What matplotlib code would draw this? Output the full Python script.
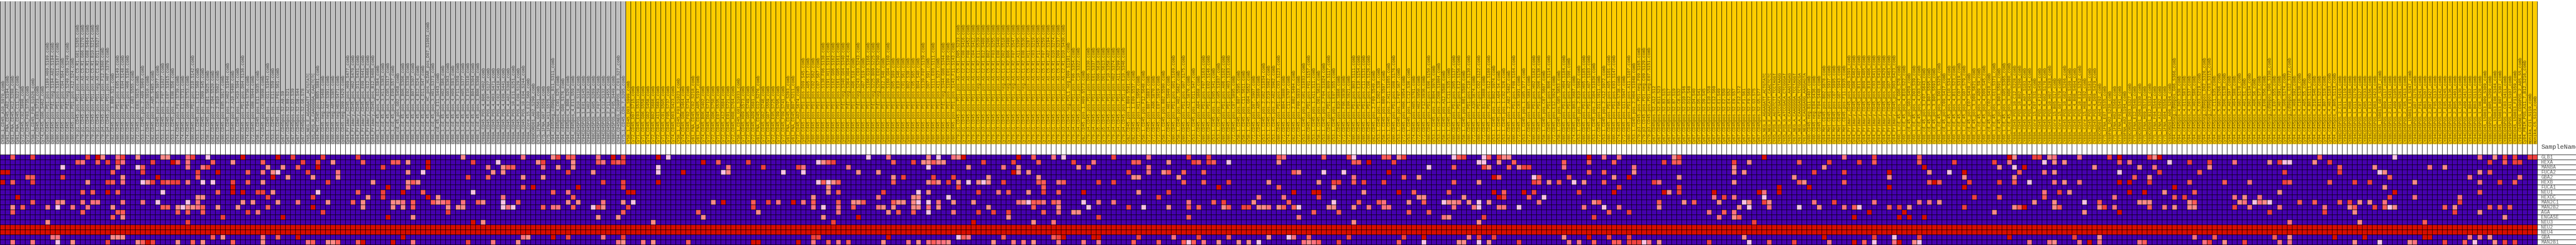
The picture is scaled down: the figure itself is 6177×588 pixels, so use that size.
#!/usr/bin/env python3
import numpy as np
import matplotlib
matplotlib.use("Agg")
import matplotlib.pyplot as plt
from matplotlib.colors import ListedColormap

W, H = 6177, 588

# sample names, left to right
samples = """
CY58_1_CD45_A10_S970_comb Cy81_FNA_CD45_A02_S194_comb Cy81_FNA_CD45_H12_S288_comb Cy81_FNA_CD45_C11_S227_comb
Cy72_CD45_C02_S698_comb Cy72_CD45_F03_S735_comb CY58_1_CD45_F06_S1026_comb Cy72_CD45_E03_S723_comb Cy74_CD45_G06_S462_comb
cy80.Cd45.pos.PD1.pos.S189.H09.S189.comb cy80.Cd45.pos.Pd1.neg.S194.A02.S194.comb cy80.Cd45.pos.PD1.pos.S167.G11.S167.comb
cy80.Cd45.pos.PD1.pos.C04.S64.comb cy80.Cd45.pos.Pd1.neg.S249.C09.S249.comb cy80.Cd45.pos.PD1.pos.A12.S24.comb
cy79.p1.CD45.pos.PD1.pos.AS.C5.R1.G01.S265.comb cy79.p1.CD45.pos.PD1.pos.AS.C5.R1.G06.S270.comb cy79.p3.CD45.pos.PD1.pos.AS.C2.R1.G08.S464.comb
cy79.p1.CD45.pos.PD1.pos.AS.C5.R1.B10.S214.comb cy79.p1.CD45.pos.PD1.neg.AS.C1.R2.D11.S527.comb cy79.p4.CD45.pos.PD1.pos.F12.S360.comb
cy79.p4.CD45.pos.PD1.pos.H07.S379.comb cy82.CD45.pos.3.B09.S21.comb cy80.CD45.pos.PD1.pos.E05.S149.comb cy80.CD45.pos.PD1.pos.E04.S148.comb
cy80.CD45.pos.PD1.pos.H06.S186.comb cy82.CD45.pos.2.G03.S555.comb cy72.CD45.pos.E03.S915.comb cy53.1.CD45.pos.2.A09.S969.comb
cy72.CD45.pos.D10.S910.comb cy82.CD45.pos.2.A05.S485.comb cy53.1.CD45.pos.2.B05.S977.comb cy53.1.CD45.pos.2.F07.S1027.comb
cy53.1.CD45.pos.2.E07.S1015.comb cy53.1.CD45.pos.1.E08.S56.comb cy74.CD45.pos.F07.S739.comb cy74.CD45.pos.E11.S731.comb
cy74.CD45.pos.G09.S753.comb cy80.CD45.pos.PD1.pos.D10.S142.comb cy53.1.CD45.pos.1.E12.S60.comb cy53.1.CD45.pos.1.D09.S45.comb
cy58.1.CD45.pos.E01.S625.comb cy82.CD45.pos.2.D04.S520.comb cy82.CD45.pos.2.B10.S502.comb cy80.CD45.pos.E05.S917.comb
cy53.1.CD45.pos.2.H02.S1046.comb cy82.CD45.pos.2.A10.S490.comb cy53.1.CD45.pos.1.H10.S94.comb cy80.CD45.pos.PD1.pos.D04.S136.comb
cy74.CD45.pos.F04.S736.comb cy72.CD45.pos.G08.S944.comb cy58.1.CD45.pos.E11.S635.comb cy74.CD45.pos.C02.S698.comb
cy53.1.CD45.pos.2.G11.S1043.comb cy53.1.CD45.pos.1.E11.S59.comb cy53.1.CD45.pos.1.F01.S61.comb
Cy67.CD45pos.S2.A9.S9 Cy67.CD45pos.S2.B9.S21 Cy67.CD45pos.S2.D3.S39 Cy67.CD45pos.S2.D8.S44 Cy67.CD45pos.S2.G6.S78
CY65_NEG_E_AGAAGATT_ACTGTATC CY65_POS_H_CAAGGGGA_CAACTCTC cy84.Met.CD45.pos.B05.S881.comb
cy80.CD45.neg.G12.S468.comb cy80.CD45.neg.A07.S391.comb cy80.CD45.neg.A05.S385.comb cy80.CD45.neg.H03.S471.comb cy80.CD45.neg.D09.S429.comb
Cy84_Primary_CD45_pos_H09_S477_comb Cy84_Primary_CD45_pos_H02_S470_comb Cy84_Primary_CD45_pos_D11_S431_comb
Cy84_Primary_CD45_pos_E09_S441_comb Cy84_Primary_CD45_pos_G12_S468_comb Cy84_Primary_CD45_pos_B12_S408_comb
cy60_1_cd_45_pos_4_G12_S84_comb cy60_1_cd_45_pos_3_H11_S383_comb cy60_1_cd_45_pos_3_C05_S317_comb cy60_1_cd_45_pos_4_E09_S57_comb
cy88_cd_45_pos_G02_S458_comb cy60_1_cd_45_pos_3_B06_S306_comb cy60_1_cd_45_pos_3_E02_S338_comb cy60_1_cd_45_pos_3_B07_S307_comb
cy60_1_cd_45_pos_4_B12_S24_comb cy60_1_cd_45_pos_4_D11_S47_comb cy60_1_cd_45_pos_HC_pos_HLDAR_pos_D07_S1003_comb
cy60_1_cd_45_pos_3_H01_S373_comb cy88_cd_45_pos_E11_S443_comb cy60_1_cd_45_pos_4_H02_S86_comb cy60_1_cd_45_pos_3_G03_S363_comb
cy60_1_cd_45_pos_4_H09_S93_comb cy60_1_cd_45_pos_3_F11_S359_comb cy60_1_cd_45_pos_3_H05_S377_comb cy60_1_cd_45_pos_3_E10_S310_comb
cy60_1_cd_45_pos_3_B04_S304_comb cy60_1_cd_45_pos_3_B08_S308_comb CY89A_CD45_POS_4_B06_S402_comb CY89A_CD45_POS_6_C07_S127_comb
CY89A_CD45_POS_4_H03_S471_comb CY89A_CD45_POS_4_C02_S410_comb CY89A_CD45_POS_4_E09_S441_comb CY89A_CD45_POS_4_A02_S386_comb
CY89A_CD45_POS_10_E11_S251_comb CY89A_CD45_POS_6_C09_S129_comb CY89A_CD45_POS_10_E04_S244_comb CY89A_Core_15_E12_S60_comb
CY89CORD01_A02_S290_comb CY75_1FNA_G09_S561_comb CY75_1FNA_G07_S559_comb CY75_1FNA_H11_S575_comb
cy94_cd45neg_cd90pos_B11_S311_comb cy94_cd45pos_4_C01_S25_comb cy94_cd45pos_G08_S176_comb cy94_cd45pos_4_B08_S20_comb cy94_cd45pos_4_E11_S59_comb
CY94CD45POS_1_B10_S118_comb CY94CD45POS_1_E01_S145_comb CY94CD45POS_1_H02_S182_comb CY88CD45POS_7_G05_S269_comb CY88CD45POS_7_F07_S259_comb
CY94CD45POS_1_C12_S132_comb CY88CD45POS_2_F11_S455_comb CY88CD45POS_2_F05_S449_comb CY94_CD45NEG_CD90POS_2_C03_S27_comb CY75_1_CD45_CD8_7_S205_comb
CY58_1_CD45_D03_S999_comb Cy72_CD45_D07_S715_comb Cy71_CD45_E03_S531_comb Cy71_CD45_G06_S558_comb Cy74_CD45_G02_S458_comb
Cy72_CD45_B02_S686_comb Cy72_CD45_A11_S683_comb Cy71_CD45_C01_S505_comb Cy72_CD45_F05_S737_comb Cy74_CD45_D03_S423_comb
CY58_1_CD45_F03_S1023_comb Cy74_CD45_G08_S464_comb Cy72_CD45_F02_S734_comb Cy81_FNA_CD45_C02_S218_comb Cy81_FNA_CD45_A05_S197_comb
Cy74_CD45_B06_S402_comb Cy72_CD45_D04_S712_comb Cy72_CD45_G06_S750_comb Cy71_CD45_E07_S535_comb Cy72_CD45_A12_S684_comb
Cy72_CD45_E01_S721_comb Cy72_CD45_H08_S764_comb CY58_1_CD45_G01_S1033_comb Cy71_CD45_H09_S573_comb Cy72_CD45_G05_S749_comb
Cy72_CD45_A09_S681_comb Cy81_FNA_CD45_G12_S276_comb Cy72_CD45_G02_S746_comb Cy71_CD45_G07_S559_comb Cy72_CD45_E05_S725_comb
Cy72_CD45_C09_S705_comb Cy72_CD45_F09_S741_comb Cy81_FNA_CD45_H07_S283_comb Cy81_FNA_CD45_B07_S211_comb Cy72_CD45_A02_S674_comb
cy80.Cd45.pos.PD1.pos.D09.S45.comb cy80.Cd45.pos.PD1.pos.A05.S17.comb cy80.Cd45.pos.PD1.pos.C02.S62.comb cy80.Cd45.pos.PD1.pos.C07.S67.comb
cy80.Cd45.pos.PD1.pos.S138.F06.S138.comb cy80.Cd45.pos.PD1.pos.S191.H11.S191.comb cy80.Cd45.pos.PD1.pos.S162.G06.S162.comb
cy80.Cd45.pos.PD1.pos.S161.G05.S161.comb cy80.Cd45.pos.Pd1.neg.S340.G04.S340.comb cy80.Cd45.pos.Pd1.neg.S364.H04.S364.comb
cy80.Cd45.pos.PD1.pos.A06.S18.comb cy80.Cd45.pos.Pd1.neg.S243.C03.S243.comb cy80.Cd45.pos.PD1.pos.A07.S19.comb
cy80.Cd45.pos.PD1.pos.S166.G10.S166.comb cy80.Cd45.pos.Pd1.neg.S225.B09.S225.comb cy80.Cd45.pos.Pd1.neg.S290.E02.S290.comb
cy80.Cd45.pos.PD1.pos.B12.S48.comb cy80.Cd45.pos.PD1.pos.S160.G04.S160.comb cy80.Cd45.pos.PD1.pos.D05.S89.comb cy80.Cd45.pos.PD1.pos.B10.S46.comb
cy80.Cd45.pos.PD1.pos.C01.S61.comb cy80.Cd45.pos.PD1.pos.B02.S38.comb cy80.Cd45.pos.PD1.pos.C05.S65.comb cy80.Cd45.pos.PD1.pos.B04.S40.comb
cy80.Cd45.pos.PD1.pos.S139.F07.S139.comb cy80.Cd45.pos.PD1.pos.D07.S91.comb cy80.Cd45.pos.PD1.pos.S111.E03.S111.comb
cy80.Cd45.pos.PD1.pos.A11.S23.comb cy80.Cd45.pos.Pd1.neg.S344.G08.S344.comb cy80.Cd45.pos.PD1.pos.S109.E01.S109.comb
cy80.Cd45.pos.PD1.pos.S143.F11.S143.comb cy79.p1.CD45.pos.PD1.pos.AS.C5.R1.D05.S233.comb cy79.p1.CD45.pos.PD1.pos.AS.C2.R1.C08.S416.comb
cy79.p3.CD45.pos.PD1.pos.AS.C2.R1.F08.S452.comb cy79.p3.CD45.pos.PD1.pos.AS.C2.R1.C04.S412.comb cy79.p1.CD45.pos.PD1.neg.AS.C1.R2.E11.S539.comb
cy79.p3.CD45.pos.PD1.pos.AS.C2.R1.B12.S408.comb cy79.p1.CD45.pos.PD1.pos.AS.C5.R1.B02.S206.comb cy79.p1.CD45.pos.PD1.pos.AS.C5.R1.F03.S255.comb
cy79.p3.CD45.pos.PD1.pos.AS.C2.R1.E08.S440.comb cy79.p1.CD45.pos.PD1.neg.AS.C1.R2.D02.S518.comb cy79.p1.CD45.pos.PD1.neg.AS.C1.R2.B06.S498.comb
cy79.p1.CD45.pos.PD1.neg.AS.C1.R2.F07.S547.comb cy79.p3.CD45.pos.PD1.pos.AS.C2.R1.A11.S395.comb cy79.p1.CD45.pos.PD1.neg.AS.C1.R2.E08.S536.comb
cy79.p1.CD45.pos.PD1.pos.AS.C5.R1.H11.S287.comb cy79.p1.CD45.pos.PD1.pos.AS.C5.R1.C03.S219.comb cy79.p3.CD45.pos.PD1.pos.AS.C2.R1.F11.S455.comb
cy79.p1.CD45.pos.PD1.pos.AS.C5.R1.F07.S259.comb cy79.p1.CD45.pos.PD1.pos.AS.C5.R1.A02.S194.comb cy79.p1.CD45.pos.PD1.pos.AS.C5.R1.G10.S274.comb
cy79.p1.CD45.pos.PD1.pos.AS.C5.R1.D09.S237.comb cy79.p3.CD45.pos.PD1.pos.AS.C2.R1.D10.S430.comb cy79.p4.CD45.neg.PDL1.neg.D09.S1101.comb
cy79.p4.CD45.pos.PD1.pos.F06.S354.comb cy79.p4.CD45.pos.PD1.pos.C10.S322.comb cy82.CD45.pos.1.H09.S573.comb cy79.p4.CD45.pos.PD1.pos.D06.S330.comb
cy79.p4.CD45.pos.PD1.pos.E01.S337.comb cy79.p5.CD45.pos.PD1.pos.D06.S618.comb cy79.p5.CD45.pos.PD1.pos.D01.S613.comb cy79.p4.CD45.pos.PD1.pos.F10.S358.comb
cy79.p4.CD45.pos.PD1.pos.H02.S374.comb cy79.p4.CD45.pos.PD1.pos.A11.S299.comb cy79.p4.CD45.pos.PD1.pos.E10.S346.comb cy82.CD45.pos.1.B09.S501.comb
cy82.CD45.pos.1.E09.S537.comb cy72.CD45.pos.H11.S959.comb cy58.1.CD45.pos.F12.S648.comb cy72.CD45.pos.B07.S883.comb cy72.CD45.pos.A06.S870.comb
cy72.CD45.pos.E07.S919.comb cy58.1.CD45.pos.B02.S590.comb cy72.CD45.pos.H01.S949.comb cy80.CD45.pos.PD1.pos.G01.S169.comb cy58.1.CD45.pos.H02.S662.comb
cy80.CD45.pos.PD1.pos.G07.S175.comb cy72.CD45.pos.A12.S876.comb cy53.1.CD45.pos.1.D11.S47.comb cy72.CD45.pos.A04.S868.comb
cy80.CD45.pos.PD1.pos.F07.S163.comb cy80.CD45.pos.PD1.pos.E02.S146.comb cy53.1.CD45.pos.1.D05.S41.comb cy53.1.CD45.pos.2.G05.S1037.comb
cy80.CD45.pos.PD1.pos.A06.S102.comb cy80.CD45.pos.PD1.pos.H03.S183.comb cy72.CD45.pos.C07.S895.comb cy58.1.CD45.pos.B07.S595.comb
cy58.1.CD45.pos.C11.S611.comb cy58.1.CD45.pos.G04.S652.comb cy72.CD45.pos.D07.S907.comb cy72.CD45.pos.A05.S869.comb cy53.1.CD45.pos.2.G02.S1034.comb
cy53.1.CD45.pos.2.D10.S982.comb cy53.1.CD45.pos.2.A02.S962.comb cy80.CD45.pos.PD1.pos.C03.S123.comb cy72.CD45.pos.B04.S880.comb
cy74.CD45.pos.C11.S707.comb cy82.CD45.pos.2.B02.S494.comb cy72.CD45.pos.F09.S933.comb cy53.1.CD45.pos.2.G01.S1033.comb
cy80.CD45.pos.PD1.pos.F01.S157.comb cy53.1.CD45.pos.1.A11.S11.comb cy58.1.CD45.pos.D01.S613.comb cy53.1.CD45.pos.2.F04.S1024.comb
cy80.CD45.pos.PD1.pos.B09.S117.comb cy53.1.CD45.pos.1.E07.S55.comb cy72.CD45.pos.B10.S886.comb cy72.CD45.pos.F06.S930.comb cy72.CD45.pos.E09.S921.comb
cy80.CD45.pos.PD1.pos.B03.S111.comb cy80.CD45.pos.PD1.pos.E10.S154.comb cy80.CD45.pos.PD1.pos.C11.S131.comb cy80.CD45.pos.PD1.pos.C06.S126.comb
cy82.CD45.pos.2.F09.S549.comb cy53.1.CD45.pos.1.D02.S38.comb cy58.1.CD45.pos.B09.S597.comb cy53.1.CD45.pos.2.H11.S1055.comb
cy80.CD45.pos.PD1.pos.G08.S176.comb cy53.1.CD45.pos.1.F07.S67.comb cy72.CD45.pos.H06.S954.comb cy53.1.CD45.pos.1.C12.S36.comb
cy74.CD45.pos.H05.S761.comb cy72.CD45.pos.H02.S950.comb cy72.CD45.pos.F12.S936.comb cy80.CD45.pos.PD1.pos.E06.S150.comb
cy53.1.CD45.pos.2.B04.S976.comb cy53.1.CD45.pos.2.D08.S1004.comb cy58.1.CD45.pos.A12.S588.comb cy53.1.CD45.pos.1.C11.S35.comb
cy80.CD45.pos.PD1.pos.D05.S137.comb cy80.CD45.pos.PD1.pos.E12.S156.comb cy58.1.CD45.pos.B01.S589.comb cy80.CD45.pos.PD1.pos.C10.S130.comb
cy72.CD45.pos.A10.S874.comb cy80.CD45.pos.PD1.pos.C02.S122.comb cy72.CD45.pos.B12.S888.comb cy80.CD45.pos.PD1.pos.G12.S180.comb
cy53.1.CD45.pos.2.B02.S974.comb cy53.1.CD45.pos.1.A04.S4.comb cy53.1.CD45.pos.1.C02.S26.comb cy82.CD45.pos.2.A02.S482.comb
cy80.CD45.pos.PD1.pos.F08.S164.comb cy72.CD45.pos.C03.S891.comb cy53.1.CD45.pos.1.G05.S77.comb cy72.CD45.pos.B05.S881.comb
cy80.CD45.pos.PD1.pos.H02.S182.comb cy80.CD45.pos.PD1.pos.D06.S138.comb cy58.1.CD45.pos.C07.S607.comb cy80.CD45.pos.PD1.pos.B06.S114.comb
cy72.CD45.pos.E12.S924.comb cy58.1.CD45.pos.G05.S653.comb cy80.CD45.pos.PD1.pos.H04.S184.comb cy80.CD45.pos.PD1.pos.A02.S98.comb
cy74.CD45.pos.B03.S687.comb cy53.1.CD45.pos.2.B10.S982.comb cy80.CD45.pos.PD1.pos.H05.S185.comb cy80.CD45.pos.PD1.pos.A07.S103.comb
cy53.1.CD45.pos.2.G04.S1036.comb cy72.CD45.pos.D11.S911.comb cy53.1.CD45.pos.2.A12.S972.comb cy80.CD45.pos.PD1.pos.A05.S101.comb
cy80.CD45.pos.PD1.pos.E03.S147.comb cy74.CD45.pos.F06.S738.comb cy72.CD45.pos.G11.S947.comb cy80.CD45.pos.PD1.pos.A11.S107.comb
cy53.1.CD45.pos.2.H04.S1048.comb cy79.p3.CD45.pos.PD1.neg.F09.S165.comb cy79.p3.CD45.pos.PD1.neg.C09.S129.comb cy79.p3.CD45.pos.PD1.neg.E07.S151.comb
Cy67.CD45pos.S2.A12.S12 Cy67.CD45pos.S2.B11.S23 Cy67.CD45pos.S2.B3.S15 Cy67.CD45pos.S2.B5.S17 Cy67.CD45pos.S2.B7.S19 Cy67.CD45pos.S2.C8.S32
Cy67.CD45pos.S2.D10.S46 Cy67.CD45pos.S2.D12.S48 Cy67.CD45pos.S2.D4.S40 Cy67.CD45pos.S2.D5.S41 Cy67.CD45pos.S2.D9.S45 Cy67.CD45pos.S2.E10.S58
Cy67.CD45pos.S2.E12.S60 Cy67.CD45pos.S2.E1.S49 Cy67.CD45pos.S2.E2.S50 Cy67.CD45pos.S2.E4.S52 Cy67.CD45pos.S2.E9.S57 Cy67.CD45pos.S2.F12.S72
Cy67.CD45pos.S2.F1.S61 Cy67.CD45pos.S2.F9.S69 Cy67.CD45pos.S2.G3.S75 Cy67.CD45pos.S2.G5.S77
CY65_NEG_E_AGAAGATT_ACTGTATC CY65_NEG_E_AGAACATT_CAACTCTC CY65_POS_E_AGTGTCTT_TCCTAGGT CY65_POS_F_ATCCGACA_AGGTAAGG
CY65_POS_G_ATCCGACA_CTCGGGAT CY65_POS_G_CAAGGGGA_AAGTAGAG CY67_NEG_A_CAAGGGGA_TCCTAGGT CY67_NEG_A_CAAGGAGA_TCTGGCGA CY67_NEG_A_CAGAGAGG_AAGGAGTA
cy80.CD45.neg.B11.S407.comb cy80.CD45.neg.E04.S436.comb cy80.CD45.neg.F04.S448.comb cy84.Met.CD45.pos.B02.S878.comb cy84.Met.CD45.pos.G01.S937.comb
cy84.Met.CD45.pos.C07.S895.comb cy84.Met.CD45.pos.G07.S943.comb cy84.Met.CD45.pos.F11.S935.comb
Cy84_Primary_CD45_pos_A09_S393_comb Cy84_Primary_CD45_pos_G06_S462_comb Cy84_Primary_CD45_pos_B11_S407_comb Cy84_Primary_CD45_pos_B09_S405_comb
Cy84_Primary_CD45_pos_B10_S406_comb Cy84_Primary_CD45_pos_C03_S411_comb Cy84_Primary_CD45_pos_C10_S418_comb Cy84_Primary_CD45_pos_D09_S429_comb
Cy84_Primary_CD45_pos_G07_S463_comb Cy84_Primary_CD45_pos_D03_S423_comb cy60_1_cd_45_pos_4_G06_S78_comb cy60_1_cd_45_pos_4_B10_S22_comb
cy88_cd_45_pos_G03_S459_comb cy60_1_cd_45_pos_4_D03_S39_comb cy60_1_cd_45_pos_4_C03_S27_comb cy88_cd_45_pos_3_F07_S643_comb
cy88_cd_45_pos_3_B07_S595_comb cy88_cd_45_pos_3_B05_S593_comb cy60_1_cd_45_pos_3_D01_S325_comb cy88_cd_45_pos_C09_S417_comb
cy60_1_cd_45_pos_4_C10_S34_comb cy60_1_cd_45_pos_4_B11_S23_comb cy60_1_cd_45_pos_3_C07_S319_comb cy60_1_cd_45_pos_4_G07_S79_comb
cy88_cd_45_pos_E07_S439_comb cy88_cd_45_pos_3_D09_S621_comb cy60_1_cd_45_pos_4_A09_S9_comb cy60_1_cd_45_pos_4_D09_S45_comb
cy88_cd_45_pos_C02_S410_comb cy60_1_cd_45_pos_3_G11_S371_comb cy88_cd_45_pos_3_B03_S591_comb cy60_1_cd_45_pos_3_G05_S365_comb
cy60_1_cd_45_pos_3_H06_S380_comb CY89A_CD45_POS_10_C12_S228_comb CY89A_CD45_POS_10_B02_S206_comb CY89A_CD45_POS_6_A07_S103_comb
CY89A_CD45_POS_4_D04_S424_comb CY89A_Core_15_C07_S31_comb CY89A_CD45_POS_4_F12_S456_comb CY89A_CD45_POS_6_G02_S170_comb
CY89A_CD45_POS_10_H07_S283_comb CY89A_Core_15_B05_S17_comb CY89A_Core_15_G07_S79_comb CY89A_CD45_POS_10_G02_S266_comb
CY89A_CD45_POS_6_B01_S109_comb CY89A_CD45_POS_4_B08_S404_comb CY89A_CD45_POS_10_E12_S252_comb CY89A_Core_15_H08_S92_comb
CY89A_CD45_POS_6_H01_S181_comb CY89A_CD45_POS_4_D09_S429_comb CY89CORD01_A04_S292_comb CY75_1FNA_E07_S535_comb CY89FNA_D02_S230_comb
CY75_1FNA_H02_S566_comb CY75_1FNA_F01_S541_comb CY89FNA_A02_S194_comb CY89CORD01_D03_S327_comb CY75_1FNA_E12_S540_comb
CY89CORD01_D06_S330_comb CY75_1FNA_H09_S573_comb CY89CORD01_B12_S312_comb CY75_1FNA_F04_S544_comb CY75_1FNA_A12_S492_comb
CY75_1FNA_G04_S556_comb CY89CORD01_A06_S294_comb cy94_cd45neg_cd90pos_G06_S366_comb cy94_cd45pos_4_D02_S38_comb cy94_cd45pos_4_G11_S83_comb
cy94_cd45pos_4_D01_S37_comb cy94_cd45pos_4_H02_S86_comb cy88_cd45pos_5_C03_S219_comb cy94_cd45neg_cd90pos_D02_S326_comb
cy94_cd45neg_cd90pos_C03_S315_comb cy94_cd45pos_4_C11_S35_comb cy88_cd45pos_5_G02_S266_comb cy94_cd45pos_4_D06_S138_comb
cy94_cd45pos_4_A01_S97_comb cy94_cd45pos_4_H04_S88_comb cy94_cd45pos_4_G02_S170_comb cy94_cd45pos_4_A01_S1_comb cy94_cd45pos_4_D02_S134_comb
cy94_cd45pos_4_A06_S6_comb cy94_cd45pos_4_G01_S73_comb cy94_cd45pos_4_E08_S56_comb cy94_cd45neg_cd90pos_D06_S330_comb cy94_cd45pos_4_E07_S55_comb
cy94_cd45pos_4_H07_S91_comb cy94_cd45pos_4_G06_S174_comb cy94_cd45neg_cd90pos_G12_S372_comb cy94_cd45pos_4_H08_S92_comb cy94_cd45pos_4_C10_S130_comb
cy94_cd45pos_4_A05_S5_comb cy94_cd45pos_4_B03_S111_comb cy94_cd45pos_4_D10_S46_comb cy94_cd45pos_4_B11_S23_comb cy94_cd45pos_4_B07_S19_comb
cy94_cd45pos_4_H03_S183_comb cy94_cd45pos_4_B05_S113_comb CY88CD45POS_2_C11_S419_comb CY94CD45POS_1_B11_S119_comb CY88CD45POS_1_H08_S188_comb
CY94CD45POS_1_G11_S179_comb CY94CD45POS_1_C07_S127_comb CY88CD45POS_7_D05_S233_comb CY94CD45POS_1_E12_S156_comb CY88CD45POS_2_D03_S423_comb
CY88CD45_150813_G07_S367_comb CY88CD45POS_1_B09_S117_comb CY88CD45POS_2_D11_S431_comb CY88CD45POS_1_A09_S105_comb CY88CD45POS_7_H05_S281_comb
CY88CD45POS_2_C05_S413_comb CY88CD45_150813_E11_S347_comb CY94CD45POS_1_G07_S175_comb CY88CD45POS_7_F01_S241_comb CY88CD45POS_7_B03_S207_comb
CY88CD45POS_2_D07_S427_comb CY94CD45POS_1_F05_S137_comb CY94CD45POS_1_D10_S142_comb CY88CD45POS_7_E05_S245_comb CY94CD45POS_1_D04_S136_comb
CY88CD45POS_2_B05_S401_comb CY94CD45POS_1_C10_S130_comb CY94CD45POS_2_A09_S417_comb CY94CD45POS_1_B04_S112_comb CY94CD45POS_1_B03_S111_comb
CY94CD45POS_1_C08_S128_comb CY88CD45_150813_B09_S309_comb CY88CD45POS_7_B05_S209_comb CY88CD45_150813_E08_S344_comb CY88CD45_150813_B07_S307_comb
CY88CD45POS_2_C03_S411_comb CY94CD45POS_1_A11_S107_comb CY88CD45_150813_F11_S359_comb CY94_CD45NEG_CD90POS_2_A05_S5_comb
Cy84_PRIM_POS_A11_7_B12_S216_comb monika_C11_S119_comb monika_C5_S123_comb
""".split()

# first 125 samples are the gray class, the rest the gold one
n_gray = 125

genes = ["GLB1", "HEXA", "MANBA", "FUCA2", "GBA2", "HEXB", "FUCA1", "NEU1", "HEXDC",
         "MAN2C1", "MAN2B2", "AGA", "ENGASE", "NEU3", "NEU2", "NEU4", "GBA", "MAN2B1"]

# non-blue cells per gene, as column + colour step (p pale .. r dark red)
GLB1 = """2c 6e 17e 19r 20s 23k 24e 27s 32s 33s 37k 38e 41p 48r 55r 58e 64e 71e 92s 104k 110s 111e 113c 114c 119k 122r 124e 131r 133p
173p 177k 185s 187p 190k 191s 192r 203r 206c 210k 212p 222e 229k 237e 241e 255c 256k 264c 269e 270p 276c 277c 279s 280e 290p 291c 292e 296p 297c 299e 300s 301s 317r 320k 323k 334s 335e
352r 368k 374e 383c 401r 402s 406e 407e 409s 410k 415k 421e 423r 429e 430s 431r 463c 478p 495k 498s 500e 502e 505e 506e"""
HEXA = """15c 16k 19c 21e 23e 24k 30e 34r 35c 37k 42c 46s 52c 60e 63e 66s 72c 78c 79c 81s 85r 94e 99p 107s 108e 114s 119c 120k 122e 123c 124e 140r 143c 149e 163p 164s 165c 166e
178c 182e 184s 185s 186c 187s 188s 196e 202e 207c 214e 218k 226c 227c 233s 238e 239c 241e 242c 245p 255s 270c 271c 273r 278e 295p 296p 299s 302c 312c 317c 322c 332e 334c 335c
346e 349s 359c 365e 371e 374c 383c 390e 398e 401k 408p 410s 412s 423c 425k 433p 437e 441e 446k 453s 455e 456p 457p 462s 465e 497e 500c 502e 503e"""
MANBA = """12p 23s 27p 28c 37k 40k 41e 53s 56s 59c 63r 76e 85r 97k 100s 101c 102c 108k 111s 114s 131p 145k 152e 159e 160k 169k 185p 193s 200k 203s 215s 217c 229k
285p 290c 296e 297s 301c 303s 304e 305e 312k 326k 346s 364s 384r 399s 402p 404r 418s 427s 430k 441s 467c 474s 485k 488s"""
FUCA2 = """0r 1r 22c 28e 39e 43r 49c 52k 54s 55p 61e 67k 81s 84p 98s 100s 113e 118s 131p 136r 144p 145s 156p 160p 171s 175s 202r 203s 205s 225e 229k 232s 233c 236c 240c
258c 259s 264p 268p 277r 317c 320c 326s 346s 348s 362e 368e 377r 385s 389p 392r 403c 408k 410s 423p 431e 439c 456e 467e 475p 476s 495s 497c"""
GBA2 = """5c 6c 12e 24s 31r 39c 54r 57s 62s 67s 93e 97c 104s 108s 178s 180e 186e 190e 197s 207s 226s 227s 235s 270k 280c 283s 298r 299c 306p 307c 313c 322s 325r 335s
358s 377s 392s 402s 426c 429s 477c 493k 503k"""
HEXB = """0r 2c 6e 17s 21e 22c 24k 28p 29s 30e 32e 33c 34e 35e 37k 40p 42p 46e 49c 52s 65e 74s 81s 82c 83s 120e 124e 131r 163p 164c 165p 166s 167c
178c 185s 186c 187s 189e 191s 193p 195s 196p 197s 200e 207c 208c 211k 212c 219e 222e 236c 240c 245e 253s 263s 266e 267e 270c 272e 276e 290c 295s 306e 307c 309s 311c 314p 316s 320c 330e 331k
346s 359c 360s 368c 385c 386r 387c 393e 399e 402c 405p 410k 412s 415k 423r 425r 429e 437c 444c 449k 456e 457c 465c 470e 473e 482s 495k 499e 502c"""
FUCA1 = """46r 77r 81k 104c 106r 115r 124e 165s 191e 208c 243r 255c 266s 323e 335e 355r 361r 377r 392r 434r 476s"""
NEU1 = """16c 18c 21r 23c 32p 43c 46r 48r 51e 52e 54s 63p 71c 76e 80r 84c 94p 110c 113k 125r 126r 165s 167c 176e 183p 185s 195e 199k 201c 205s 208e 211c 216r 227s 233e
258r 262r 263r 272s 279r 282c 289c 298r 300c 304r 306e 315e 322r 332r 333s 335e 342r 351r 352k 355r 408k 411e 413s 425r 428r 432s 438c 455s 478r 495c"""
HEXDC = """3r 39s 40s 53e 62e 73s 76e 85r 87s 100k 114c 162s 175k 182s 183s 189p 231e 251k 256k 263e 283s 284s 292s 299r 300e 305c 308p
342k 344e 346k 352p 394e 399c 408c 422k 434c 436e 446k 448s 451k 477e 482k 491k"""
MAN2C1 = """6c 11k 12s 16k 18k 19k 24k 28k 31p 37p 39k 48s 50s 55s 59k 65s 70c 72s 78s 79s 80k 82c 86c 87s 88k 89c 92k 95c 96s 100p 103c 113s 115s 120k 124s 126p 142s 144r 150c 153e 155k 158r 160k 162c 167c
170s 171s 172c 178c 179s 180s 182s 183p 185p 187k 190s 194s 203k 204s 205p 206c 207c 208k 210c 211k 216p 219k 222k 237k 242c 244e 250s 257c 266p 271c 275c 276k 281s 284c 288p 289s 290s 291k 293s 295p 297s 307k 318s 319c 331c 336s
338c 343s 348p 349s 352e 353s 362k 366e 374k 383k 385k 387s 406s 410s 416p 419c 427s 428s 429s 437s 438c 447s 448k 450p 451k 452s 453p 459c 462c 467c 469e 471s 473s 476k 491e"""
MAN2B2 = """2s 4c 9k 11p 14k 17k 22s 32c 33c 35s 36p 37s 38s 39k 40c 43s 47s 53c 62r 72s 78s 80s 82c 89s 91s 92s 100p 101k 102p 108c 110k 111k 114c 118p 119e 120s 125e 150e 162k 164p 167k
170c 175k 176s 178s 182s 183s 185k 187s 197s 206c 211s 217p 225e 228p 233s 237c 239c 244s 245c 248e 249e 251s 252s 253k 255s 256c 258c 259p 265s 266s 270s 273k 276k 277k 290k 294k 295p 299k 300k 303p 316k 320p 323k 331s
347s 349p 353k 359p 363s 368k 370c 371p 377c 379e 381s 392e 402s 403c 404r 410s 411c 419s 420e 422k 429c 432k 434s 437s 438s 446e 449k 455k 464k 469s 470c 474e 476c 477p 478s 488c 490s 497c 499c 501c"""
AGA = """2c 16c 23c 24c 35c 37c 40c 49e 51k 64e 89e 124c 139c 151s 167k 177s 179c 182c 185p 190k 195e 198e 201e 208c 211k 214s 215s 262c 267c 281c 285c 321c 325e
341k 344c 346k 373r 380r 398s 416s 423r 453e 464e 470s 490e 495s"""
ENGASE = """22c 24s 44e 56r 77r 82s 119s 123s 140s 164s 171r 201s 219e 237c 259k 288k 289s 296e 318e 343k 346s 347c 370r 379r 381r 384r 500s"""
NEU3 = """9s 37e 94r 96s 130s 166e 194r 206s 210k 270s 295s 350e 457k 471s 484c"""
GBA = """10k 11k 22s 23s 24s 42c 44s 52k 55c 59r 80r 104k 105s 110r 113e 120k 124e 162e 163e 177r 191p 192c 193k 200c 210c 211e 212r 218r 219r 227e 234k 239e 245c
253s 257p 258k 261c 269e 280e 284r 293k 295e 298e 312s 317r 321e 325e 348s 364r 374e 378p 383e 401r 414e 419s 438k 442c 454c 457s 466r 472r 484r 485r 493k 495k 497s"""
MAN2B1 = """2k 6k 11p 14s 21e 27s 28c 29r 30e 35s 38c 40s 46c 52s 61k 62c 65s 66s 67c 71c 72r 78r 82k 93e 98k 103s 123k 124s 128k 130s 137c 150r 151r 159r 162k 165c 167k
169c 176s 181k 183s 185k 186c 187k 188k 189s 198s 202k 204k 206s 211k 216k 219k 226c 231c 236c 237p 238c 240k 243s 247s 249s 251p 260k 261s 262k 263c 267e 279c 284p 291s 292s 295p 297s 303e 313k 315k 318c 322c 323c 325e 326e 327e 328p 329k 331s
341e 349p 353c 358e 365k 370r 372c 374p 378k 379r 382s 383p 405k 409k 410s 415k 417r 419k 427k 428c 440k 441e 444s 448e 455k 457k 470s 475p 481s 482k 488e 492c 494p 498s 500e 502e"""

rows = [GLB1, HEXA, MANBA, FUCA2, GBA2, HEXB, FUCA1, NEU1, HEXDC, MAN2C1, MAN2B2, AGA, ENGASE, NEU3, None, None, GBA, MAN2B1]

steps = "bpskcer"
colors = ["#4500AD", "#FFC0E5", "#FF8989", "#FF7080", "#FF5A5A", "#EF4040", "#D60C00"]

n_cols = len(samples)
assert n_cols == 507, n_cols

# build the matrix from the cell lists, NEU2 and NEU4 are red all the way
matrix = np.zeros((len(genes), n_cols))
for i, row in enumerate(rows):
    if row is None:
        matrix[i, :] = steps.index("r")
        continue
    for cell in row.split():
        matrix[i, int(cell[:-1])] = steps.index(cell[-1])

fig = plt.figure(figsize=(W / 100, H / 100), dpi=100)


def box(x0, y0, x1, y1):
    return [x0 / W, 1 - y1 / H, (x1 - x0) / W, (y1 - y0) / H]


# sample bars with their names
ax = fig.add_axes(box(0, 3, 6084, 346))
ax.set_xlim(0, n_cols)
ax.set_ylim(0, 1)
ax.axis("off")
cols = np.arange(n_cols)
bar_colors = ["#C0C0C0" if c < n_gray else "#FFCC00" for c in cols]
ax.bar(cols + 0.5, 1, width=1, color=bar_colors, linewidth=0, antialiased=False)
for c, name in zip(cols, samples):
    ax.text(c + 0.52, 0.003, name, rotation=90, ha="center", va="bottom", fontsize=7.3,
            family="Liberation Mono", color="#000000", alpha=0.65)

# black separators run from the bar top to the heat map
ax2 = fig.add_axes(box(0, 3, 6084, 371))
ax2.set_xlim(0, n_cols)
ax2.set_ylim(0, 1)
ax2.axis("off")
ax2.patch.set_alpha(0)
seps = ax2.vlines(np.arange(n_cols + 1), 0, 1, color="black", lw=0.72, clip_on=False)
seps.set_snap(True)

# heat map
hm = fig.add_axes(box(0, 371, 6084, 587))
hm.pcolormesh(matrix, cmap=ListedColormap(colors), vmin=-0.5, vmax=6.5, linewidth=0, antialiased=False)
hm.set_xlim(0, n_cols)
hm.set_ylim(len(genes), 0)
hm.axis("off")
vl = hm.vlines(np.arange(n_cols + 1), 0, len(genes), color="black", lw=0.72, clip_on=False)
hl = hm.hlines(np.arange(len(genes) + 1), 0, n_cols, color="black", lw=0.72, clip_on=False)
vl.set_snap(True)
hl.set_snap(True)

# gene names on the right
side = fig.add_axes(box(6084, 371, W, 587))
side.set_xlim(0, 1)
side.set_ylim(len(genes), 0)
side.axis("off")
rl = side.hlines(np.arange(len(genes) + 1), 0, 1, color="black", lw=0.72, clip_on=False)
rl.set_snap(True)
for i, g in enumerate(genes):
    side.text(0.102, i + 0.55, g, ha="left", va="center", fontsize=8.6, family="Liberation Mono",
              color="#000000", alpha=0.6)

fig.text(6093.5 / W, 1 - 353 / H, "SampleName", ha="left", va="center", fontsize=11,
         family="Liberation Mono", color="#000000", alpha=0.75)

fig.savefig("out.png", dpi=100, facecolor="white")
